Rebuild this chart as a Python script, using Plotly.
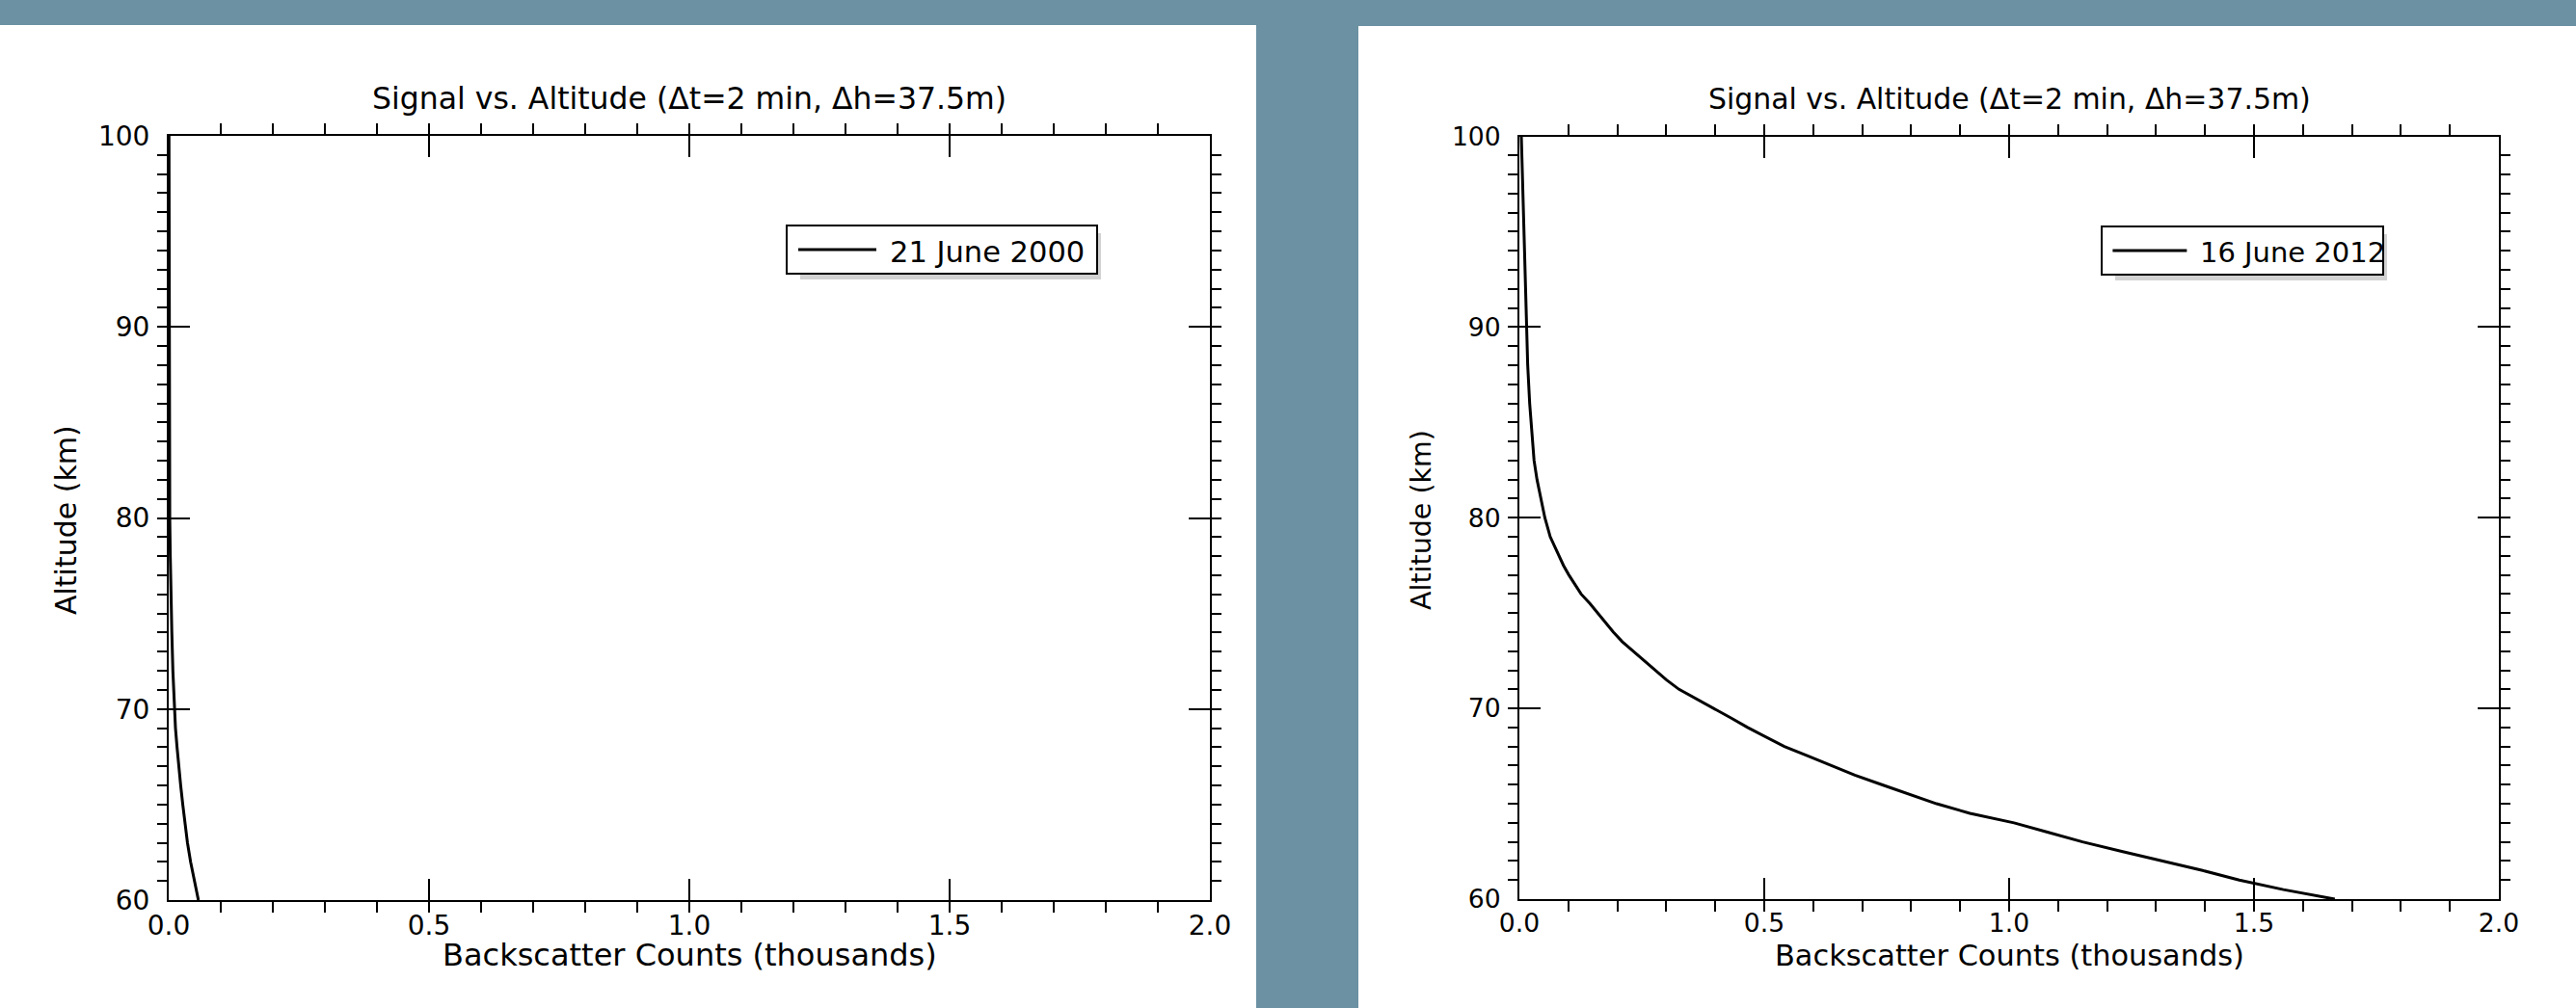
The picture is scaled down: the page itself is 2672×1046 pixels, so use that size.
import plotly.graph_objects as go

W, H = 2672, 1046

# ---------------- data ----------------
alt_2000 = [100, 95, 90, 85, 80, 78, 76, 74, 72, 70, 69, 68, 67, 66, 65, 64, 63, 62, 61, 60]
counts_2000 = [0.0005, 0.0006, 0.0008, 0.0012, 0.002, 0.003, 0.004, 0.006, 0.008, 0.011,
               0.013, 0.016, 0.019, 0.023, 0.027, 0.031, 0.036, 0.042, 0.049, 0.057]

alt_2012 = [100, 98, 96, 94, 92, 90, 88, 86, 85, 84, 83, 82, 81, 80,
            79, 78.5, 78, 77.5, 77, 76.5, 76, 75.5, 75,
            74.5, 74, 73.5, 73, 72.5, 72, 71.5, 71, 70.5, 70,
            69.5, 69, 68.5, 68, 67.5, 67, 66.5, 66, 65.5, 65,
            64.5, 64, 63.5, 63, 62.5, 62, 61.5, 61, 60.5, 60]
counts_2012 = [0.004, 0.006, 0.008, 0.010, 0.012, 0.014, 0.017, 0.021, 0.024, 0.026, 0.030, 0.036, 0.044, 0.052,
               0.063, 0.072, 0.080, 0.090, 0.101, 0.114, 0.126, 0.144, 0.160,
               0.176, 0.192, 0.210, 0.232, 0.254, 0.276, 0.300, 0.326, 0.362, 0.395,
               0.432, 0.466, 0.503, 0.541, 0.590, 0.638, 0.685, 0.740, 0.795, 0.852,
               0.920, 1.010, 1.080, 1.150, 1.230, 1.315, 1.395, 1.470, 1.560, 1.665]

label_2000 = "21 June 2000"
label_2012 = "16 June 2012"
title_text = "Signal vs. Altitude (\u0394t=2 min, \u0394h=37.5m)"
x_title = "Backscatter Counts (thousands)"
y_title = "Altitude (km)"
x_tickvals = [0.0, 0.5, 1.0, 1.5, 2.0]
x_ticktext = ["0.0", "0.5", "1.0", "1.5", "2.0"]
y_tickvals = [60, 70, 80, 90, 100]
y_ticktext = ["60", "70", "80", "90", "100"]

# ---------------- layout helpers ----------------
FONT = "DejaVu Sans"
BG = "#6b91a3"


def px(x):
    return x / W


def py(y):
    return (H - y) / H


panels = [
    dict(x0=175, x1=1255, y0=141, y1=934, s=1.0,
         leg=(816, 1138, 234, 284), ytx=68, label=label_2000,
         alt=alt_2000, cnt=counts_2000),
    dict(x0=1576, x1=2592, y0=141.5, y1=933, s=0.95,
         leg=(2180, 2472, 235, 285), ytx=1474, label=label_2012,
         alt=alt_2012, cnt=counts_2012),
]

fig = go.Figure()
shapes = []
annotations = []

# white panels on blue background
shapes.append(dict(type="rect", xref="paper", yref="paper", layer="below",
                   x0=px(0), x1=px(1303), y0=py(H), y1=py(26),
                   fillcolor="white", line=dict(width=0)))
shapes.append(dict(type="rect", xref="paper", yref="paper", layer="below",
                   x0=px(1409), x1=px(W), y0=py(H), y1=py(27),
                   fillcolor="white", line=dict(width=0)))

layout_axes = {}
for i, p in enumerate(panels):
    n = "" if i == 0 else str(i + 1)
    fig.add_trace(go.Scatter(x=p["cnt"], y=p["alt"], mode="lines",
                             line=dict(color="black", width=3),
                             name=p["label"], showlegend=False,
                             xaxis="x" + n, yaxis="y" + n))
    s = p["s"]
    common = dict(showline=True, linecolor="black", linewidth=2, mirror="allticks",
                  ticks="inside", ticklen=22, tickwidth=2, tickcolor="black",
                  showgrid=False, zeroline=False, automargin=False,
                  tickfont=dict(family=FONT, size=28 * s, color="black"))
    layout_axes["xaxis" + n] = dict(
        common, domain=[px(p["x0"]), px(p["x1"])], range=[0, 2],
        anchor="y" + n, tickmode="array", tickvals=x_tickvals, ticktext=x_ticktext,
        minor=dict(tickmode="linear", tick0=0, dtick=0.1, ticklen=11, tickwidth=2,
                   tickcolor="black", showgrid=False),
        ticklabelstandoff=0)
    layout_axes["yaxis" + n] = dict(
        common, domain=[py(p["y1"]), py(p["y0"])], range=[60, 100],
        anchor="x" + n, tickmode="array", tickvals=y_tickvals, ticktext=y_ticktext,
        minor=dict(tickmode="linear", tick0=60, dtick=1, ticklen=10, tickwidth=2,
                   tickcolor="black", showgrid=False),
        ticklabelstandoff=12)

    cx = (p["x0"] + p["x1"]) / 2
    annotations.append(dict(text=title_text, xref="paper", yref="paper",
                            x=px(cx), y=py(102), xanchor="center", yanchor="middle",
                            showarrow=False, font=dict(family=FONT, size=31.5 * s, color="black")))
    annotations.append(dict(text=x_title, xref="paper", yref="paper",
                            x=px(cx), y=py(991), xanchor="center", yanchor="middle",
                            showarrow=False, font=dict(family=FONT, size=32 * s, color="black")))
    annotations.append(dict(text=y_title, xref="paper", yref="paper", textangle=-90,
                            x=px(p["ytx"]), y=py(540), xanchor="center", yanchor="middle",
                            showarrow=False, font=dict(family=FONT, size=30 * s, color="black")))

    # legend box with drop shadow
    lx0, lx1, ly0, ly1 = p["leg"]
    shapes.append(dict(type="rect", xref="paper", yref="paper", layer="above",
                       x0=px(lx0 + 14), x1=px(lx1 + 4), y0=py(ly1 + 6), y1=py(ly0 + 8),
                       fillcolor="#d2d2d2", line=dict(width=0)))
    shapes.append(dict(type="rect", xref="paper", yref="paper", layer="above",
                       x0=px(lx0), x1=px(lx1), y0=py(ly1), y1=py(ly0),
                       fillcolor="white", line=dict(color="black", width=2)))
    ymid = (ly0 + ly1) / 2
    seg = 81 * s
    shapes.append(dict(type="line", xref="paper", yref="paper", layer="above",
                       x0=px(lx0 + 12 * s), x1=px(lx0 + 12 * s + seg), y0=py(ymid), y1=py(ymid),
                       line=dict(color="black", width=3)))
    annotations.append(dict(text=p["label"], xref="paper", yref="paper",
                            x=px(lx0 + 12 * s + seg + 12 * s), y=py(ymid + 2),
                            xanchor="left", yanchor="middle", showarrow=False,
                            font=dict(family=FONT, size=30.5 * s, color="black")))

fig.update_layout(width=W, height=H, margin=dict(l=0, r=0, t=0, b=0, autoexpand=False),
                  paper_bgcolor=BG, plot_bgcolor="white",
                  shapes=shapes, annotations=annotations, showlegend=False,
                  **layout_axes)

fig.write_html("out.html",
               config={"displayModeBar": False},
               post_script="document.body.style.margin='0';document.body.style.padding='0';"
                           "document.body.style.overflow='hidden';")
